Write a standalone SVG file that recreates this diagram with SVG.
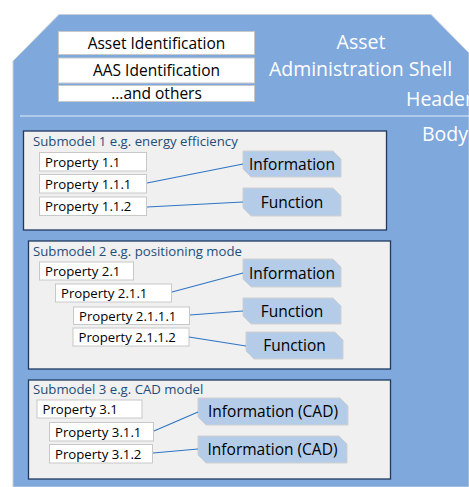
<svg xmlns="http://www.w3.org/2000/svg" width="469" height="487" viewBox="0 0 469 487">
<style>
.shell{fill:#7FA8DC;stroke:#C9CFD8;stroke-width:1}
.hbox{fill:#FFFFFF;stroke:#C8C8C8;stroke-width:1}
.htxt{font-family:"Open Sans","Noto Sans",sans-serif;font-size:15.5px;fill:#000;text-anchor:middle}
.big{font-family:"Open Sans","Noto Sans",sans-serif;font-size:19.5px;fill:#FFFFFF}
.sm{fill:#F0F0F0;stroke:#1F3A60;stroke-width:1.3}
.smt{font-family:"Open Sans","Noto Sans",sans-serif;font-size:13.2px;fill:#1F4E79}
.prop{fill:#FFFFFF;stroke:#C8C8C8;stroke-width:1}
.pt{font-family:"Open Sans","Noto Sans",sans-serif;font-size:13.2px;fill:#000}
.tag{fill:#B4CCE8;stroke:#D0D0D0;stroke-width:1}
.tt{font-family:"Open Sans","Noto Sans",sans-serif;font-size:15.5px;fill:#000;text-anchor:middle}
.con{stroke:#2E75C6;stroke-width:1.2;fill:none}
</style>
<g id="shell">
<path class="shell" d="M13,61 L59,14.5 L431,14.5 L469,53 L469,487 L13,487 Z"/>
<line x1="20" y1="116" x2="469" y2="116" stroke="#E6ECF5" stroke-width="1.2"/>
<text class="big" x="361" y="49" text-anchor="middle">Asset</text>
<text class="big" x="360.5" y="76" text-anchor="middle">Administration Shell</text>
<text class="big" x="406" y="106">Header</text>
<text class="big" x="422" y="141">Body</text>
</g>
<g id="header-asset-id"><rect class="hbox" x="58.5" y="31.5" width="196" height="23"/><text class="htxt" x="156.5" y="48.5">Asset Identification</text></g>
<g id="header-aas-id"><rect class="hbox" x="58.5" y="58" width="196" height="25"/><text class="htxt" x="156.5" y="75.5">AAS Identification</text></g>
<g id="header-others"><rect class="hbox" x="58.5" y="85.5" width="196" height="16"/><text class="htxt" x="156.5" y="99">...and others</text></g>

<g id="submodel1">
<rect class="sm" x="23.5" y="131" width="363" height="99"/>
<text class="smt" x="33" y="146">Submodel 1 e.g. energy efficiency</text>
</g>
<g id="p11"><rect class="prop" x="39.5" y="152.5" width="107" height="18.5"/><text class="pt" x="45" y="166.5">Property 1.1</text></g>
<g id="p111"><rect class="prop" x="39.5" y="174.5" width="107" height="18.5"/><text class="pt" x="45" y="188.5">Property 1.1.1</text></g>
<g id="p112"><rect class="prop" x="39.5" y="197" width="107" height="18.5"/><text class="pt" x="45" y="211">Property 1.1.2</text></g>
<g id="info1"><path class="tag" d="M243,151 L333,151 L341,159 L341,177 L251,177 L243,169 Z"/><text class="tt" x="292" y="169.5">Information</text></g>
<g id="func1"><path class="tag" d="M243,188 L333,188 L341,196 L341,216 L251,216 L243,208 Z"/><text class="tt" x="292" y="207.5">Function</text></g>

<g id="submodel2">
<rect class="sm" x="28.5" y="241" width="362" height="128"/>
<text class="smt" x="33" y="255.5">Submodel 2 e.g. positioning mode</text>
</g>
<g id="p21"><rect class="prop" x="39.5" y="262" width="94" height="18"/><text class="pt" x="45" y="276">Property 2.1</text></g>
<g id="p211"><rect class="prop" x="55.5" y="284" width="116" height="18"/><text class="pt" x="61" y="298">Property 2.1.1</text></g>
<g id="p2111"><rect class="prop" x="73.5" y="307" width="116" height="17.5"/><text class="pt" x="79" y="320.5">Property 2.1.1.1</text></g>
<g id="p2112"><rect class="prop" x="73" y="328" width="116" height="18"/><text class="pt" x="78.5" y="342">Property 2.1.1.2</text></g>
<g id="info2"><path class="tag" d="M243,259 L333,259 L341,267 L341,287 L251,287 L243,279 Z"/><text class="tt" x="292" y="278.5">Information</text></g>
<g id="func2"><path class="tag" d="M243,298 L333,298 L341,306 L341,324 L251,324 L243,316 Z"/><text class="tt" x="292" y="316.5">Function</text></g>
<g id="func3"><path class="tag" d="M246,332 L335,332 L343,340 L343,359 L254,359 L246,351 Z"/><text class="tt" x="294.5" y="351">Function</text></g>

<g id="submodel3">
<rect class="sm" x="28.5" y="380" width="362" height="99"/>
<text class="smt" x="33" y="393.5">Submodel 3 e.g. CAD model</text>
</g>
<g id="p31"><rect class="prop" x="37" y="400" width="105" height="18"/><text class="pt" x="42.5" y="414">Property 3.1</text></g>
<g id="p311"><rect class="prop" x="49.5" y="422.5" width="104" height="18.5"/><text class="pt" x="55" y="436.5">Property 3.1.1</text></g>
<g id="p312"><rect class="prop" x="49.5" y="444.5" width="103" height="18.5"/><text class="pt" x="55" y="458.5">Property 3.1.2</text></g>
<g id="cad1"><path class="tag" d="M198,398 L340,398 L348,406 L348,425 L206,425 L198,417 Z"/><text class="tt" x="273" y="417">Information (CAD)</text></g>
<g id="cad2"><path class="tag" d="M198,436 L339,436 L347,444 L347,463 L206,463 L198,455 Z"/><text class="tt" x="272.5" y="455">Information (CAD)</text></g>

<g id="connectors">
<line class="con" x1="147" y1="183" x2="243" y2="164"/>
<line class="con" x1="147" y1="207" x2="243" y2="202"/>
<line class="con" x1="172" y1="292" x2="243" y2="273"/>
<line class="con" x1="190" y1="315" x2="243" y2="311"/>
<line class="con" x1="189" y1="337" x2="246" y2="346"/>
<line class="con" x1="154" y1="431" x2="198" y2="412"/>
<line class="con" x1="153" y1="453" x2="198" y2="449"/>
</g>
</svg>
